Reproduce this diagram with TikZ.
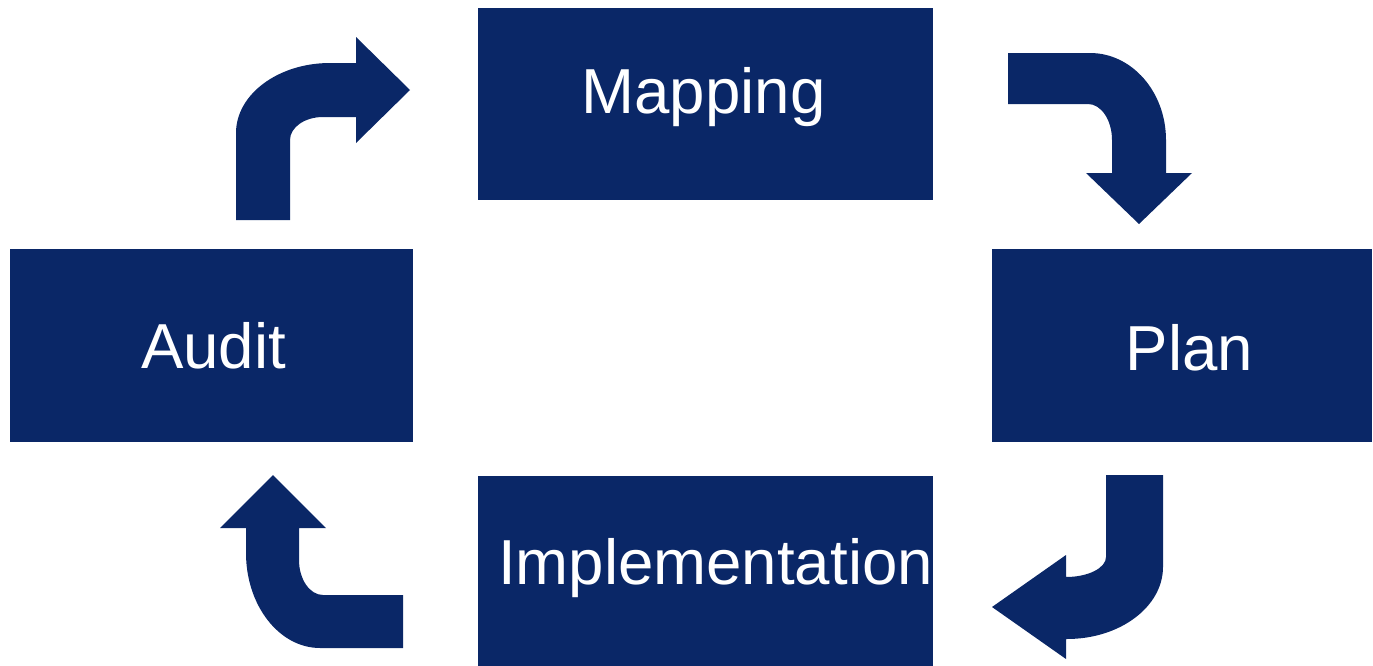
\documentclass[tikz,border=0pt]{standalone}
\usepackage{fontspec}
\setmainfont{Liberation Sans}
\definecolor{navy}{RGB}{10,39,103}
\begin{document}
\begin{tikzpicture}[x=0.02cm,y=-0.02cm,
  box/.style={fill=navy,draw=none,inner sep=0pt,outer sep=0pt},
  label text/.style={text=white,font=\fontsize{36.2}{43}\selectfont,anchor=base,inner sep=0pt},
  blockarrow/.style={fill=navy,draw=none}]
\useasboundingbox (0,0) rectangle (1373,666);

% process boxes
\node[box,minimum width=9.1cm,minimum height=3.84cm] (map) at (705.5,104) {};
\node[box,minimum width=8.06cm,minimum height=3.86cm] (audit) at (211.5,345.5) {};
\node[box,minimum width=7.6cm,minimum height=3.86cm] (plan) at (1182,345.5) {};
\node[box,minimum width=9.1cm,minimum height=3.8cm] (impl) at (705.5,571) {};

% box captions
\node[label text] (mapT) at (703.5,113) {Mapping};
\node[label text] (auditT) at (213.5,368) {Audit};
\node[label text] (planT) at (1189.5,370) {Plan};
\node[label text] (implT) at (715.5,584) {Implementation};

% Audit -> Mapping
\fill[blockarrow] (236,220) -- (236,133)
  .. controls (236,94.4) and (278.1,63) .. (330,63)
  -- (356,63) -- (356,37) -- (410,90) -- (356,143) -- (356,117) -- (323,117)
  .. controls (304.8,117) and (290,127.3) .. (290,140)
  -- (290,220) -- cycle;

% Mapping -> Plan
\fill[blockarrow] (1008,53) -- (1090,53)
  .. controls (1132,53) and (1166,92) .. (1166,140)
  -- (1166,173) -- (1192,173) -- (1139,224) -- (1086,173) -- (1112,173) -- (1112,140)
  .. controls (1112,120.1) and (1101.2,104) .. (1088,104)
  -- (1008,104) -- cycle;

% Plan -> Implementation
\fill[blockarrow] (1106,475) -- (1163,475) -- (1163,567)
  .. controls (1163,606.7) and (1120,639) .. (1067,639)
  -- (1066,639) -- (1066,659) -- (992,607) -- (1066,555) -- (1066,577)
  .. controls (1088.1,577) and (1106,568) .. (1106,557)
  -- cycle;

% Implementation -> Audit
\fill[blockarrow] (403,595) -- (323,595)
  .. controls (309.8,595) and (299,579.3) .. (299,560)
  -- (299,528) -- (326,528) -- (273,475) -- (220,528) -- (246,528) -- (246,553)
  .. controls (246,605.4) and (279.2,648) .. (320,648)
  -- (403,648) -- cycle;
\end{tikzpicture}
\end{document}
